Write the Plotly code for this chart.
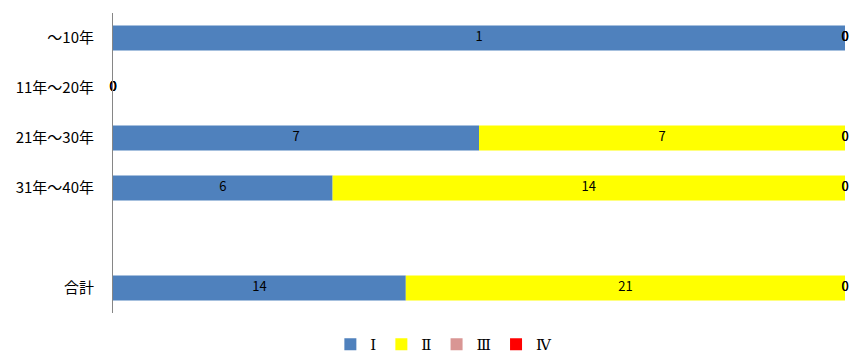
import plotly.graph_objects as go

categories = ["～10年", "11年～20年", "21年～30年", "31年～40年", "", "合計"]
series_names = ["Ⅰ", "Ⅱ", "Ⅲ", "Ⅳ"]
vals_I = [1, 0, 7, 6, None, 14]
vals_II = [0, 0, 7, 14, None, 21]
vals_III = [0, 0, 0, 0, None, 0]
vals_IV = [0, 0, 0, 0, None, 0]
colors = ["#4F81BD", "#FFFF00", "#D99694", "#FF0000"]

all_vals = [vals_I, vals_II, vals_III, vals_IV]
ypos = list(range(len(categories)))

totals = []
for i in ypos:
    t = sum((s[i] or 0) for s in all_vals)
    totals.append(t)

fig = go.Figure()
starts = [0.0] * len(categories)
for k, (name, vals, col) in enumerate(zip(series_names, all_vals, colors)):
    xs, ys = [], []
    lx, ly, lt = [], [], []
    for i in ypos:
        v = vals[i]
        if v is None:
            continue
        frac = v / totals[i] if totals[i] else 0
        xs.append(frac)
        ys.append(i)
        lx.append(starts[i] + frac / 2)
        ly.append(i)
        lt.append(str(v))
    bases = [starts[i] for i in ys]
    fig.add_trace(go.Bar(
        x=xs, y=ys, base=bases, orientation="h", name=name,
        marker=dict(color=col, line=dict(width=0)), width=0.5,
        hoverinfo="skip", legendrank=k + 1,
    ))
    fig.add_trace(go.Scatter(
        x=lx, y=ly, text=lt, mode="text", showlegend=False,
        textfont=dict(size=13, color="#000000", family="Noto Sans CJK JP"),
        textposition="middle center", cliponaxis=False, hoverinfo="skip",
    ))
    for j, i in enumerate(ys):
        starts[i] += xs[j]

fig.update_layout(
    width=849, height=356,
    margin=dict(l=113, r=4, t=13, b=43, autoexpand=False),
    plot_bgcolor="white", paper_bgcolor="white",
    barmode="overlay",
    font=dict(family="Noto Sans CJK JP", size=13, color="#000000"),
    showlegend=True,
    legend=dict(
        orientation="h", x=0.452, xanchor="center", y=-0.105, yanchor="middle",
        font=dict(size=15, family="DejaVu Serif", color="#000000"),
        itemwidth=30, traceorder="normal",
    ),
    xaxis=dict(range=[0, 1], showgrid=False, zeroline=False, showticklabels=False,
               showline=False, ticks=""),
    yaxis=dict(range=[5.5, -0.5], tickmode="array", tickvals=ypos, ticktext=categories,
               showgrid=False, zeroline=False, showline=True, linecolor="#868686",
               linewidth=1, ticks="outside", ticklen=15, tickcolor="rgba(0,0,0,0)",
               tickfont=dict(size=15, family="Noto Sans CJK JP")),
)

fig.write_html("out.html")
